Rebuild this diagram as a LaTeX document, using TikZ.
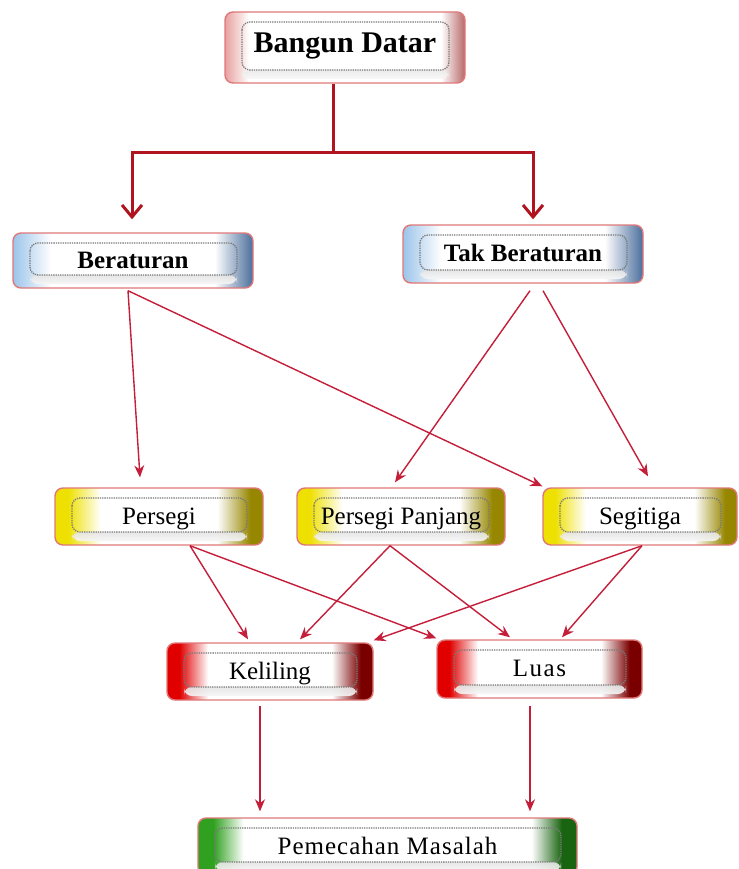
\documentclass[tikz,border=0pt]{standalone}
\usepackage{fontspec}
\setmainfont{Liberation Serif}
\usetikzlibrary{arrows.meta}
\definecolor{lc}{HTML}{C41E3A}
\definecolor{tc}{HTML}{B0141E}
\definecolor{bord}{HTML}{E07878}
\definecolor{pkA}{HTML}{E8A0A0}
\definecolor{pkB}{HTML}{B86868}
\definecolor{blA}{HTML}{9CC4EA}
\definecolor{blB}{HTML}{4A6E9C}
\definecolor{ylA}{HTML}{EEE000}
\definecolor{ylB}{HTML}{968600}
\definecolor{rdA}{HTML}{E00000}
\definecolor{rdB}{HTML}{7A0000}
\definecolor{grA}{HTML}{30A020}
\definecolor{grB}{HTML}{186410}
\pgfdeclarehorizontalshading{pksh}{100bp}{color(0bp)=(pkA); color(25bp)=(pkA); color(30bp)=(white); color(70bp)=(white); color(75bp)=(pkB); color(100bp)=(pkB)}
\pgfdeclarehorizontalshading{blsh}{100bp}{color(0bp)=(blA); color(25bp)=(blA); color(33bp)=(white); color(67bp)=(white); color(75bp)=(blB); color(100bp)=(blB)}
\pgfdeclarehorizontalshading{ylsh}{100bp}{color(0bp)=(ylA); color(25bp)=(ylA); color(28bp)=(ylA); color(36bp)=(white); color(64bp)=(white); color(72bp)=(ylB); color(100bp)=(ylB)}
\pgfdeclarehorizontalshading{rdsh}{100bp}{color(0bp)=(rdA); color(25bp)=(rdA); color(28bp)=(rdA); color(35bp)=(white); color(65bp)=(white); color(72bp)=(rdB); color(100bp)=(rdB)}
\pgfdeclarehorizontalshading{grsh}{100bp}{color(0bp)=(grA); color(25bp)=(grA); color(27bp)=(grA); color(31bp)=(white); color(69bp)=(white); color(73bp)=(grB); color(100bp)=(grB)}
\tikzset{
  boxbase/.style={rounded corners=8pt, draw=bord, line width=1.4pt, inner sep=0pt,
    text height=18.5pt, text depth=3.5pt,
    font=\fontsize{25}{25}\selectfont,
    path picture={
      \shade[top color=gray!90, bottom color=white, opacity=0.9]
        ([shift={(17,-13)}]path picture bounding box.south west) rectangle
        ([shift={(-16,-4)}]path picture bounding box.south east);
      \draw[gray!95!black, densely dotted, line width=1.3pt]
        ([shift={(17,10)}]path picture bounding box.north west) rectangle
        ([shift={(-16,-13)}]path picture bounding box.south east);
    }},
  pinkbox/.style={boxbase, shading=pksh},
  bluebox/.style={boxbase, shading=blsh},
  yelbox/.style={boxbase, shading=ylsh},
  redbox/.style={boxbase, shading=rdsh},
  greenbox/.style={boxbase, shading=grsh},
  thinarrow/.style={draw=lc, line width=1.4pt, -{Stealth[length=12pt,width=10pt]}},
  tree/.style={draw=tc, line width=3pt},
  treearrow/.style={tree, -{Straight Barb[length=12pt,width=20pt]}}
}
\begin{document}
\begin{tikzpicture}[x=1pt,y=-1pt]
\useasboundingbox (0,0) rectangle (738,869);
\clip (0,0) rectangle (738,869);
\fill[white] (0,0) rectangle (738,869);

\node[pinkbox, minimum width=240pt, minimum height=71pt,
  font=\fontsize{30}{30}\selectfont\bfseries, text height=22pt, text depth=11pt] (bd) at (345,47.5) {Bangun Datar};
\node[bluebox, minimum width=240pt, minimum height=55pt, font=\fontsize{25}{25}\selectfont\bfseries] (ber) at (133,260.5) {Beraturan};
\node[bluebox, minimum width=240pt, minimum height=58pt, font=\fontsize{25}{25}\selectfont\bfseries] (tak) at (523,254) {Tak Beraturan};
\node[yelbox, minimum width=208pt, minimum height=57pt] (per) at (159,516.5) {Persegi};
\node[yelbox, minimum width=208pt, minimum height=57pt] (pp) at (401,516.5) {Persegi Panjang};
\node[yelbox, minimum width=194pt, minimum height=57pt] (seg) at (640,516.5) {Segitiga};
\node[redbox, minimum width=206pt, minimum height=57pt] (kel) at (270,671.5) {Keliling};
\node[redbox, minimum width=205pt, minimum height=58pt, font=\fontsize{25}{25}\selectfont\addfontfeatures{LetterSpace=6}] (lua) at (539.5,669) {Luas};
\node[greenbox, minimum width=379pt, minimum height=57pt, font=\fontsize{25}{25}\selectfont\addfontfeatures{LetterSpace=4}] (pm) at (387.5,846.5) {Pemecahan Masalah};

\coordinate (jn) at (333,153);
\draw[tree] ([shift={(-12,0)}]bd.south) -- (jn);
\draw[treearrow] (jn) -| ([shift={(-1,-13)}]ber.north);
\draw[treearrow] (jn) -| ([shift={(10,-5)}]tak.north);

\draw[thinarrow] ([shift={(-5,2)}]ber.south) -- ([shift={(-19,-10)}]per.north);
\draw[thinarrow] ([shift={(-5,2)}]ber.south) -- ([shift={(0,-1)}]seg.north west);
\draw[thinarrow] ([shift={(7,7)}]tak.south) -- ([shift={(-6,-5)}]pp.north);
\draw[thinarrow] ([shift={(20,7)}]tak.south) -- ([shift={(8,-11)}]seg.north);

\draw[thinarrow] ([shift={(31,0)}]per.south) -- ([shift={(-22,-3)}]kel.north);
\draw[thinarrow] ([shift={(31,0)}]per.south) -- ([shift={(0,-1)}]lua.north west);
\draw[thinarrow] ([shift={(-11,0)}]pp.south) -- ([shift={(30,-3)}]kel.north);
\draw[thinarrow] ([shift={(-11,0)}]pp.south) -- ([shift={(-29.5,-2)}]lua.north);
\draw[thinarrow] ([shift={(2,0)}]seg.south) -- ([shift={(0,-2)}]kel.north east);
\draw[thinarrow] ([shift={(2,0)}]seg.south) -- ([shift={(22.5,-2)}]lua.north);

\draw[thinarrow] ([shift={(-10,5)}]kel.south) -- ([shift={(-127.5,-6)}]pm.north);
\draw[thinarrow] ([shift={(-9.5,7)}]lua.south) -- ([shift={(142.5,-6)}]pm.north);
\end{tikzpicture}
\end{document}
